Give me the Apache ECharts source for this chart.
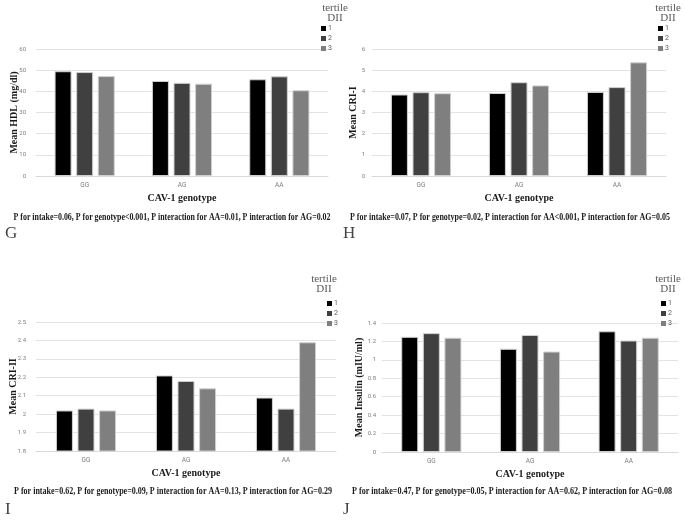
<!DOCTYPE html>
<html>
<head>
<meta charset="utf-8">
<script src="https://cdn.jsdelivr.net/npm/echarts@6/dist/echarts.min.js"></script>
<style>html,body{margin:0;padding:0;background:#fff;}#c{width:685px;height:524px;}</style>
</head>
<body>
<div id="c"></div>
<script>
var categories = ['GG', 'AG', 'AA'];
var tertiles = ['1', '2', '3'];
// Panel G: Mean HDL (mg/dl)
var hdlT1 = [49.5, 44.9, 45.7];
var hdlT2 = [49.1, 44.0, 47.1];
var hdlT3 = [47.2, 43.6, 40.5];
// Panel H: Mean CRI-I
var cri1T1 = [3.85, 3.92, 3.97];
var cri1T2 = [3.96, 4.43, 4.20];
var cri1T3 = [3.91, 4.28, 5.37];
// Panel I: Mean CRI-II
var cri2T1 = [2.02, 2.21, 2.09];
var cri2T2 = [2.03, 2.18, 2.03];
var cri2T3 = [2.02, 2.14, 2.39];
// Panel J: Mean Insulin (mIU/ml)
var insT1 = [1.25, 1.12, 1.31];
var insT2 = [1.29, 1.27, 1.21];
var insT3 = [1.24, 1.09, 1.24];

var yTitles = ['Mean HDL (mg/dl)', 'Mean CRI-I', 'Mean CRI-II', 'Mean Insulin (mIU/ml)'];
var yMin = [0, 0, 1.8, 0];
var yMax = [60, 6, 2.5, 1.4];
var yInterval = [10, 1, 0.1, 0.2];
var pTexts = [
  'P for intake=0.06, P for genotype<0.001, P interaction for AA=0.01, P interaction for AG=0.02',
  'P for intake=0.07, P for genotype=0.02, P interaction for AA<0.001, P interaction for AG=0.05',
  'P for intake=0.62, P for genotype=0.09, P interaction for AA=0.13, P interaction for AG=0.29',
  'P for intake=0.47, P for genotype=0.05, P interaction for AA=0.62, P interaction for AG=0.08'
];
var panelLetters = ['G', 'H', 'I', 'J'];
var panelData = [[hdlT1, hdlT2, hdlT3], [cri1T1, cri1T2, cri1T3], [cri2T1, cri2T2, cri2T3], [insT1, insT2, insT3]];

var colors = ['#000000', '#404040', '#7f7f7f'];
var grids = [
  {left: 36, top: 49, width: 292, height: 127},
  {left: 372, top: 49, width: 294, height: 127},
  {left: 36, top: 322, width: 300, height: 129},
  {left: 382, top: 323, width: 296, height: 129}
];
var yNameGaps = [17, 14, 18, 18];
var yLabelMargins = [10, 7, 10, 6];
var legendPos = [
  {mx: 321, my: 25, tx: 335, ty: 8},
  {mx: 658, my: 25, tx: 668, ty: 8},
  {mx: 327, my: 300, tx: 324, ty: 279},
  {mx: 661, my: 300, tx: 668, ty: 279}
];
var pPos = [
  {x: 172, y: 217, w: 317},
  {x: 510, y: 217, w: 320},
  {x: 173, y: 491, w: 318},
  {x: 512, y: 491, w: 320}
];
var letterPos = [
  {x: 5, y: 234}, {x: 343, y: 234}, {x: 5, y: 510}, {x: 343, y: 510}
];

var pFont = 'bold 11px "Liberation Serif"';
var ctx = document.createElement('canvas').getContext('2d');
ctx.font = pFont;

var xAxes = [], yAxes = [], series = [], legends = [], graphics = [];
for (var i = 0; i < 4; i++) {
  xAxes.push({
    type: 'category', gridIndex: i, data: categories,
    axisLine: {lineStyle: {color: '#d9d9d9'}}, axisTick: {show: false},
    axisLabel: {fontSize: 6.5, color: '#7f7f7f', margin: 6, fontFamily: 'Roboto'},
    name: 'CAV-1 genotype', nameLocation: 'middle', nameGap: 17,
    nameTextStyle: {fontFamily: 'Liberation Serif', fontWeight: 'bold', fontSize: 10, color: '#1a1a1a'}
  });
  yAxes.push({
    type: 'value', gridIndex: i, min: yMin[i], max: yMax[i], interval: yInterval[i],
    axisLine: {show: false}, axisTick: {show: false},
    splitLine: {lineStyle: {color: '#e3e3e3'}},
    axisLabel: {fontSize: 6, color: '#7f7f7f', margin: yLabelMargins[i], fontFamily: 'Roboto'},
    name: yTitles[i], nameLocation: 'middle', nameGap: yNameGaps[i], nameMoveOverlap: false,
    nameTextStyle: {fontFamily: 'Liberation Serif', fontWeight: 'bold', fontSize: 10, color: '#1a1a1a'}
  });
  for (var s = 0; s < 3; s++) {
    series.push({
      type: 'bar', name: tertiles[s], xAxisIndex: i, yAxisIndex: i,
      data: panelData[i][s], barWidth: 17, barGap: '27%',
      itemStyle: {color: colors[s], borderColor: '#d0d0d0', borderWidth: 1},
      emphasis: {disabled: true}, animation: false
    });
  }
  var lp = legendPos[i];
  legends.push({
    data: tertiles, orient: 'vertical', left: lp.mx, top: lp.my,
    itemWidth: 5, itemHeight: 5, itemGap: 3, padding: 0,
    icon: 'rect', selectedMode: false,
    itemStyle: {borderWidth: 0},
    textStyle: {fontSize: 7, color: '#595959', padding: [0, 0, 0, -3], fontFamily: 'Roboto'}
  });
  graphics.push({type: 'text', x: lp.tx, y: lp.ty, style: {text: 'tertile', font: '11px "Liberation Serif"', fill: '#595959', align: 'center', verticalAlign: 'middle'}});
  graphics.push({type: 'text', x: lp.tx, y: lp.ty + 10, style: {text: 'DII', font: '11px "Liberation Serif"', fill: '#595959', align: 'center', verticalAlign: 'middle'}});
  var pp = pPos[i];
  var w = ctx.measureText(pTexts[i]).width;
  graphics.push({type: 'text', x: pp.x, y: pp.y, scaleX: pp.w / w, style: {text: pTexts[i], font: pFont, fill: '#1a1a1a', align: 'center', verticalAlign: 'middle'}});
  graphics.push({type: 'text', x: letterPos[i].x, y: letterPos[i].y, style: {text: panelLetters[i], font: '17px "Liberation Serif"', fill: '#444', align: 'left', verticalAlign: 'middle'}});
}

var chart = echarts.init(document.getElementById('c'), null, {renderer: 'canvas'});
chart.setOption({
  animation: false,
  backgroundColor: '#ffffff',
  grid: grids,
  xAxis: xAxes,
  yAxis: yAxes,
  legend: legends,
  series: series,
  graphic: graphics
});
</script>
</body>
</html>
